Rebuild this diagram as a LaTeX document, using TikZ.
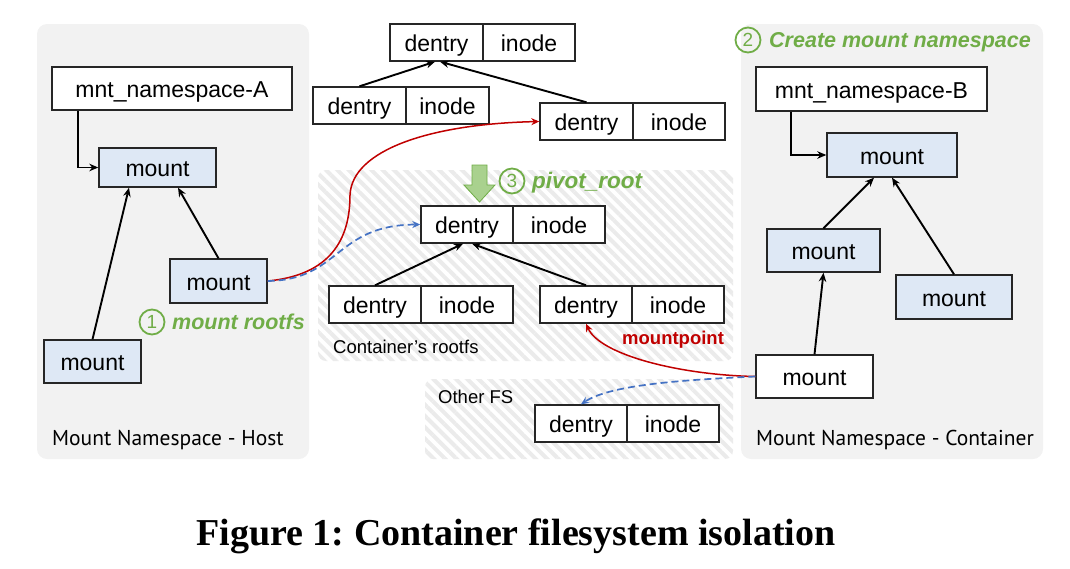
\documentclass[tikz,border=0pt]{standalone}
\usepackage{fontspec}
\setmainfont{Liberation Sans}
\newfontfamily\lblfont{PT Sans}
\newfontfamily\capfont{Liberation Serif}
\usetikzlibrary{arrows.meta,patterns.meta}
\definecolor{panelgray}{HTML}{F2F2F2}
\definecolor{mountblue}{HTML}{DEE8F5}
\definecolor{stepgreen}{HTML}{70AD47}
\definecolor{arrowgreen}{HTML}{A9D18E}
\definecolor{linkred}{HTML}{C00000}
\definecolor{linkblue}{HTML}{4472C4}
\definecolor{hatchgray}{HTML}{EBEBEB}
\frenchspacing
\begin{document}
\begin{tikzpicture}[x=1pt,y=-1pt,
  box/.style={draw=black!85, line width=1.4pt, inner sep=0pt, text height=19pt, text depth=1pt,
    font=\fontsize{23}{26}\selectfont},
  mountbox/.style={box, fill=mountblue},
  plainbox/.style={box, fill=white},
  cell/.style={box, fill=white, minimum height=37pt, minimum width=92pt},
  tree/.style={line width=1.9pt, -{Stealth[length=9pt,width=7.5pt]}},
  redlink/.style={draw=linkred, line width=1.5pt, -{Stealth[length=8pt,width=7pt]}},
  bluelink/.style={draw=linkblue, line width=1.7pt, dash pattern=on 7pt off 4pt, -{Stealth[length=8pt,width=7pt]}},
  panel/.style={fill=panelgray, rounded corners=10pt},
  hatch/.style={pattern={Lines[angle=-45,distance=8pt,line width=4pt]}, pattern color=hatchgray, rounded corners=8pt},
  stepnum/.style={circle, draw=stepgreen, line width=1.8pt, text=stepgreen, inner sep=0pt, minimum size=25pt,
    font=\fontsize{19}{19}\selectfont},
  steptext/.style={text=stepgreen, inner sep=0pt, anchor=base west, font=\fontsize{21.5}{24}\selectfont\bfseries\itshape},
  lbl/.style={inner sep=0pt, anchor=base west, font=\lblfont\fontsize{21.5}{24}\selectfont},
  small/.style={inner sep=0pt, anchor=base west, font=\fontsize{18.5}{21}\selectfont}
]
\useasboundingbox (0,0) rectangle (1070,568);
% panels
\path[panel] (37,24) rectangle (309,459);
\path[panel] (741,24) rectangle (1043,459);
\path[hatch] (318,170) rectangle (733,361);
\path[hatch] (425,379) rectangle (733,459);

% left namespace
\node[plainbox, minimum width=240pt, minimum height=43pt] (nsA) at (172,88.5) {mnt\_namespace-A};
\node[mountbox, minimum width=117pt, minimum height=39pt] (mA1) at (157.5,167.5) {mount};
\node[mountbox, minimum width=97pt, minimum height=44pt] (mA2) at (218.5,281) {mount};
\node[mountbox, minimum width=97pt, minimum height=43pt] (mA3) at (92.5,361.5) {mount};
\draw[tree] ([xshift=27pt]nsA.south west) |- (mA1.west);
\draw[tree] (mA3.north) -- ([xshift=-28.5pt]mA1.south);
\draw[tree] (mA2.north) -- ([xshift=20.5pt]mA1.south);
\node[stepnum] (s1) at (152,322) {1};
\node[steptext] (s1t) at (172,329.5) {mount rootfs};
\node[lbl] (hostlbl) at (52,445) {Mount Namespace - Host};

% right namespace
\node[plainbox, minimum width=231pt, minimum height=44pt] (nsB) at (871.5,89) {mnt\_namespace-B};
\node[mountbox, minimum width=130pt, minimum height=44pt] (mB1) at (892,155) {mount};
\node[mountbox, minimum width=113pt, minimum height=43pt] (mB2) at (823.5,250.5) {mount};
\node[mountbox, minimum width=116pt, minimum height=44pt] (mB3) at (954,297) {mount};
\node[plainbox, minimum width=117pt, minimum height=43pt] (mB4) at (814.5,376.5) {mount};
\draw[tree] ([xshift=36pt]nsB.south west) |- (mB1.west);
\draw[tree] (mB2.north) -- ([xshift=-18pt]mB1.south);
\draw[tree] (mB3.north) -- (mB1.south);
\draw[tree] (mB4.north) -- (mB2.south);
\node[stepnum] (s2) at (748,40) {2};
\node[steptext] (s2t) at (769,47.5) {Create mount namespace};
\node[lbl] (contlbl) at (756,445) {Mount Namespace - Container};

% host dentry tree
\node[cell, minimum width=93pt] (Td) at (436.5,42.5) {dentry};
\node[cell] (Ti) at (529,42.5) {inode};
\node[cell, minimum width=93pt] (Ld) at (359.5,105.5) {dentry};
\node[cell, minimum width=83pt] (Li) at (447.5,105.5) {inode};
\node[cell, minimum width=93pt] (Rd) at (586.5,121.5) {dentry};
\node[cell] (Ri) at (679,121.5) {inode};
\draw[tree] (Ld.north) -- ([xshift=-1.5pt]Td.south);
\draw[tree] (Rd.north) -- ([xshift=3.5pt]Td.south);

% container rootfs tree
\node[cell] (Md) at (467,224.5) {dentry};
\node[cell] (Mi) at (559,224.5) {inode};
\node[cell] (BLd) at (375,304.5) {dentry};
\node[cell] (BLi) at (467,304.5) {inode};
\node[cell] (BRd) at (586,304.5) {dentry};
\node[cell] (BRi) at (678,304.5) {inode};
\draw[tree] (BLd.north) -- ([xshift=-4pt]Md.south);
\draw[tree] (BRd.north) -- ([xshift=5pt]Md.south);
\node[small] (rootfslbl) at (333,353) {Container’s rootfs};
\node[small, text=linkred, font=\fontsize{18.5}{21}\selectfont\bfseries] (mplbl) at (622,344) {mountpoint};

% other fs
\node[cell] (Od) at (581,423.5) {dentry};
\node[cell] (Oi) at (673,423.5) {inode};
\node[small] (otherlbl) at (438,403) {Other FS};

% pivot_root
\path[fill=arrowgreen, draw=stepgreen, line width=0.8pt]
  (472,165) -- (487,165) -- (487,185) -- (495,185) -- (479.5,202) -- (464,185) -- (472,185) -- cycle;
\node[stepnum] (s3) at (512,181) {3};
\node[steptext, font=\fontsize{22.5}{24}\selectfont\bfseries\itshape] (s3t) at (532,188) {pivot\_root};

% links
\draw[redlink] (mA2.east) .. controls (330,275) and (350,240) .. (350,195)
  .. controls (352,150) and (430,124) .. (Rd.west);
\draw[bluelink] (mA2.east) .. controls (340,280) and (335,225) .. (Md.west);
\draw[redlink] (mB4.west) .. controls (680,375) and (600,355) .. (BRd.south);
\draw[bluelink] (mB4.west) .. controls (680,380) and (610,385) .. (Od.north);

% caption
\node[inner sep=0pt, anchor=base, font=\capfont\bfseries\fontsize{38}{40}\selectfont] (cap) at (516,545)
  {Figure 1: Container filesystem isolation};
\end{tikzpicture}
\end{document}
